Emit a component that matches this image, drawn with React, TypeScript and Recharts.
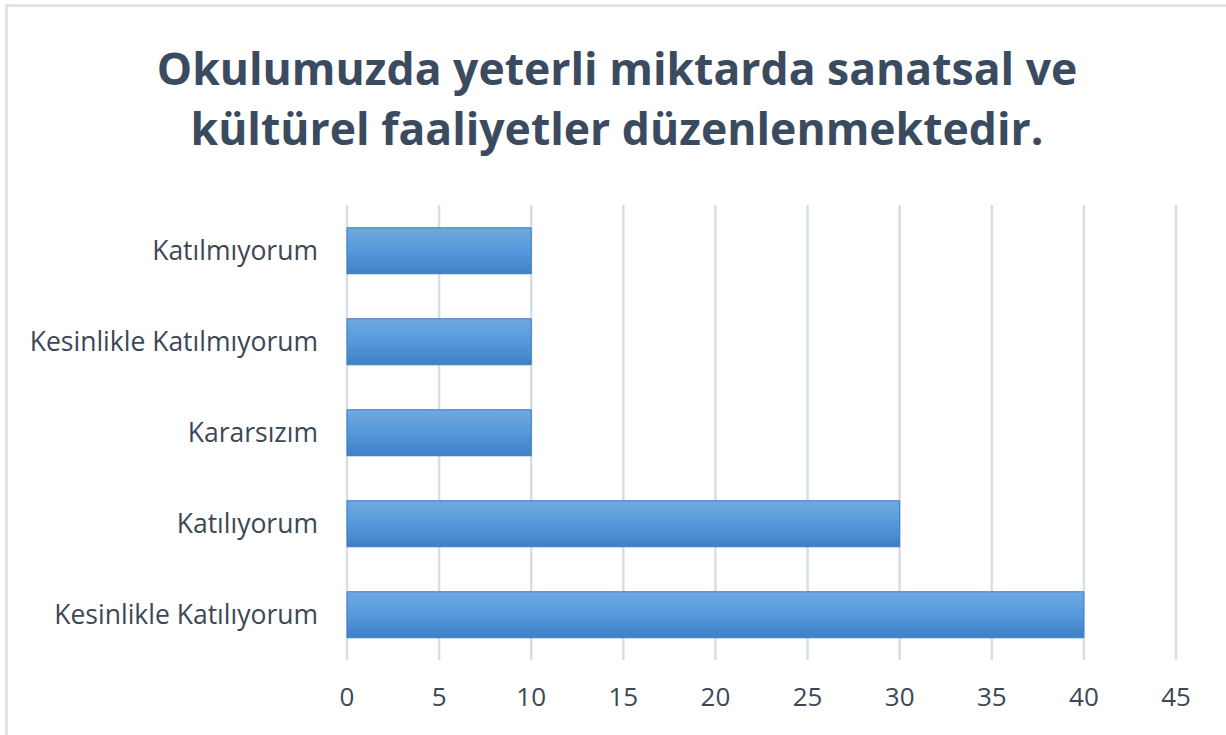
import React from "react";
import { BarChart, Bar, XAxis, YAxis, CartesianGrid } from "recharts";

const categories = [
  "Katılmıyorum",
  "Kesinlikle Katılmıyorum",
  "Kararsızım",
  "Katılıyorum",
  "Kesinlikle Katılıyorum",
];
const values = [10, 10, 10, 30, 40];
const xTicks = [0, 5, 10, 15, 20, 25, 30, 35, 40, 45];
const titleLines = [
  "Okulumuzda yeterli miktarda sanatsal ve",
  "kültürel faaliyetler düzenlenmektedir.",
];

const data = categories.map((c, i) => ({ name: c, value: values[i] }));

const FONT = "'Open Sans', sans-serif";
const TEXT = "#3d4756";

export default function App() {
  return (
    <div
      style={{
        position: "absolute",
        left: 0,
        top: 0,
        width: 1226,
        height: 735,
        background: "#fff",
        overflow: "hidden",
        fontFamily: FONT,
      }}
    >
      <div
        style={{
          position: "absolute",
          left: 5,
          top: 4,
          width: 1240,
          height: 760,
          border: "3px solid #dfe3ea",
          boxSizing: "border-box",
        }}
      />
      {titleLines.map((t, i) => (
        <div
          key={i}
          style={{
            position: "absolute",
            left: 0,
            width: 1234,
            top: 40 + i * 60,
            textAlign: "center",
            fontSize: 44.5,
            fontWeight: 700,
            color: "#3b4b5f",
            lineHeight: "56px",
            whiteSpace: "nowrap",
          }}
        >
          {t}
        </div>
      ))}
      <div style={{ position: "absolute", left: 0, top: 0 }}>
        <BarChart
          width={1226}
          height={735}
          data={data}
          layout="vertical"
          margin={{ top: 205, right: 50, bottom: 0, left: 0 }}
          barCategoryGap="25%"
        >
          <defs>
            <linearGradient id="barGrad" x1="0" y1="0" x2="0" y2="1">
              <stop offset="0%" stopColor="#71a9e0" />
              <stop offset="50%" stopColor="#5499db" />
              <stop offset="100%" stopColor="#3f80c6" />
            </linearGradient>
          </defs>
          <CartesianGrid
            horizontal={false}
            vertical={true}
            stroke="#d9dee6"
            strokeWidth={2.5}
          />
          <XAxis
            type="number"
            domain={[0, 45]}
            ticks={xTicks}
            interval={0}
            axisLine={false}
            tickLine={false}
            tickSize={0}
            tickMargin={28}
            height={75}
            tick={{ fill: TEXT, fontSize: 26, fontFamily: FONT }}
          />
          <YAxis
            type="category"
            dataKey="name"
            width={347}
            axisLine={false}
            tickLine={false}
            tickSize={0}
            tickMargin={29}
            tick={{ fill: TEXT, fontSize: 26.5, fontFamily: FONT }}
          />
          <Bar
            dataKey="value"
            fill="url(#barGrad)"
            stroke="#3d7bbf"
            strokeWidth={1}
            isAnimationActive={false}
          />
        </BarChart>
      </div>
    </div>
  );
}
